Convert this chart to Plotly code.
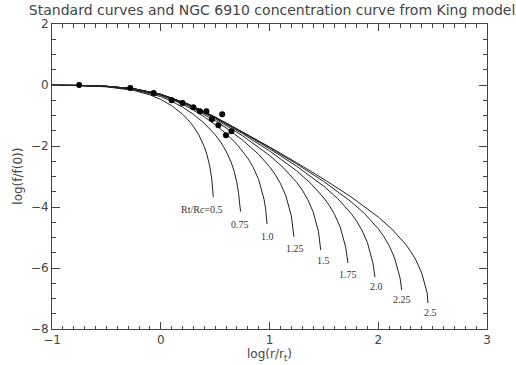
import plotly.graph_objects as go

# ---- data ----
conc_labels = ["Rt/Rc=0.5", "0.75", "1.0", "1.25", "1.5", "1.75", "2.0", "2.25", "2.5"]
label_x = [0.379, 0.733, 0.986, 1.234, 1.495, 1.726, 1.982, 2.218, 2.482]
label_y = [-4.07, -4.56, -4.97, -5.35, -5.77, -6.20, -6.62, -7.02, -7.45]

x_c050 = [-1.2, -1.0, -0.75, -0.5, -0.25, -0.1, 0, 0.1, 0.2, 0.25, 0.3, 0.35, 0.375, 0.4, 0.425, 0.45, 0.47, 0.48, 0.483]
y_c050 = [-0.0025, -0.0062, -0.0194, -0.0599, -0.1764, -0.3231, -0.4721, -0.6767, -0.9570, -1.1370, -1.3563, -1.6349, -1.8088, -2.0186, -2.2853, -2.6544, -3.1123, -3.4711, -3.67]

x_c075 = [-1.2, -1.0, -0.75, -0.5, -0.25, 0, 0.1, 0.2, 0.3, 0.4, 0.5, 0.55, 0.6, 0.65, 0.675, 0.7, 0.715, 0.73, 0.735]
y_c075 = [-0.0022, -0.0054, -0.0165, -0.0506, -0.1470, -0.3811, -0.5325, -0.7239, -0.9607, -1.2538, -1.6293, -1.8667, -2.1611, -2.5584, -2.8309, -3.2058, -3.5290, -4.0290, -4.15]

x_c100 = [-1.2, -1.0, -0.75, -0.5, -0.25, 0, 0.1, 0.2, 0.3, 0.4, 0.5, 0.6, 0.7, 0.8, 0.85, 0.9, 0.95, 0.965, 0.977]
y_c100 = [-0.0019, -0.0048, -0.0150, -0.0461, -0.1336, -0.3416, -0.4728, -0.6337, -0.8244, -1.0450, -1.2982, -1.5916, -1.9429, -2.3966, -2.6971, -3.0991, -3.7507, -4.0755, -4.56]

x_c125 = [-1.2, -1.0, -0.75, -0.5, -0.25, 0, 0.25, 0.5, 0.6, 0.75, 0.9, 1.0, 1.05, 1.1, 1.15, 1.2, 1.225]
y_c125 = [-0.0018, -0.0046, -0.0143, -0.0439, -0.1270, -0.3227, -0.6748, -1.1703, -1.4039, -1.7993, -2.2751, -2.6757, -2.9231, -3.2250, -3.6287, -4.2816, -4.98]

x_c150 = [-1.2, -1.0, -0.75, -0.5, -0.25, 0, 0.25, 0.5, 0.75, 1.0, 1.125, 1.25, 1.3, 1.35, 1.4, 1.45, 1.471]
y_c150 = [-0.0018, -0.0045, -0.0140, -0.0428, -0.1235, -0.3128, -0.6493, -1.1097, -1.6586, -2.3084, -2.7017, -3.1924, -3.4391, -3.7432, -4.1464, -4.7992, -5.41]

x_c175 = [-1.2, -1.0, -0.75, -0.5, -0.25, 0, 0.25, 0.5, 0.75, 1.0, 1.25, 1.375, 1.5, 1.55, 1.6, 1.65, 1.7, 1.722]
y_c175 = [-0.0018, -0.0044, -0.0138, -0.0422, -0.1217, -0.3076, -0.6359, -1.0786, -1.5910, -2.1598, -2.8165, -3.2104, -3.7032, -3.9503, -4.2537, -4.6581, -5.3116, -5.84]

x_c200 = [-1.2, -1.0, -0.75, -0.5, -0.25, 0, 0.25, 0.5, 0.75, 1.0, 1.25, 1.5, 1.625, 1.75, 1.8, 1.85, 1.9, 1.95, 1.97]
y_c200 = [-0.0018, -0.0044, -0.0136, -0.0418, -0.1206, -0.3047, -0.6285, -1.0620, -1.5559, -2.0876, -2.6631, -3.3221, -3.7170, -4.2093, -4.4572, -4.7604, -5.1650, -5.8184, -6.30]

x_c225 = [-1.2, -1.0, -0.75, -0.5, -0.25, 0, 0.25, 0.5, 0.75, 1.0, 1.25, 1.5, 1.75, 1.875, 2.0, 2.05, 2.1, 2.15, 2.2, 2.216]
y_c225 = [-0.0017, -0.0043, -0.0135, -0.0414, -0.1201, -0.3031, -0.6245, -1.0529, -1.5370, -2.0499, -2.5881, -3.1658, -3.8255, -4.2208, -4.7129, -4.9610, -5.2642, -5.6688, -6.3222, -6.72]

x_c250 = [-1.2, -1.0, -0.75, -0.5, -0.25, 0, 0.25, 0.5, 0.75, 1.0, 1.25, 1.5, 1.75, 2.0, 2.125, 2.25, 2.3, 2.35, 2.4, 2.45, 2.457]
y_c250 = [-0.0017, -0.0043, -0.0135, -0.0414, -0.1193, -0.3022, -0.6222, -1.0478, -1.5266, -2.0296, -2.5490, -3.0892, -3.6674, -4.3274, -4.7229, -5.2150, -5.4630, -5.7663, -6.1708, -6.8244, -7.15]

# NGC 6910 observed points
obs_x = [-0.75, -0.28, -0.065, 0.10, 0.20, 0.30, 0.36, 0.42, 0.47, 0.53, 0.565, 0.60, 0.65]
obs_y = [0.0, -0.10, -0.26, -0.50, -0.59, -0.73, -0.86, -0.86, -1.12, -1.32, -0.96, -1.65, -1.52]

x_ticks = [-1, 0, 1, 2, 3]
y_ticks = [-8, -6, -4, -2, 0, 2]

curves = [(x_c050, y_c050), (x_c075, y_c075), (x_c100, y_c100), (x_c125, y_c125),
          (x_c150, y_c150), (x_c175, y_c175), (x_c200, y_c200), (x_c225, y_c225),
          (x_c250, y_c250)]

INK = "#444444"
fig = go.Figure()
for cx, cy in curves:
    fig.add_trace(go.Scatter(x=cx, y=cy, mode="lines",
                             line=dict(color="#222222", width=1),
                             showlegend=False, hoverinfo="skip"))

fig.add_trace(go.Scatter(x=obs_x, y=obs_y, mode="markers",
                         marker=dict(color="black", size=6),
                         showlegend=False))

for t, lx, ly in zip(conc_labels, label_x, label_y):
    fig.add_annotation(x=lx, y=ly, text=t, showarrow=False,
                       font=dict(family="Liberation Serif", size=10, color="#333333"),
                       xanchor="center", yanchor="middle")

axis_common = dict(showline=True, linecolor=INK, linewidth=1, mirror="ticks",
                   ticks="inside", tickcolor=INK, showgrid=False, zeroline=False,
                   tickfont=dict(family="DejaVu Sans", size=12, color=INK))

fig.update_xaxes(range=[-1, 3], tickvals=x_ticks, ticklen=7,
                 minor=dict(dtick=0.1, ticks="inside", ticklen=3.5, tickcolor=INK),
                 **axis_common)
fig.update_yaxes(range=[-8, 2], tickvals=y_ticks, ticklen=8,
                 minor=dict(dtick=0.5, ticks="inside", ticklen=4, tickcolor=INK),
                 **axis_common)

fig.add_annotation(xref="paper", yref="paper", x=0.5, y=-0.052, yanchor="top",
                   text="log(r/r<sub>t</sub>)", showarrow=False,
                   font=dict(family="DejaVu Sans", size=12, color=INK))
fig.add_annotation(xref="paper", yref="paper", x=-0.08, y=0.5, textangle=-90,
                   xanchor="center", yanchor="middle",
                   text="log(f/f(0))", showarrow=False,
                   font=dict(family="DejaVu Sans", size=12, color=INK))

fig.update_layout(
    width=516, height=365,
    margin=dict(l=52, r=29, t=24, b=36),
    paper_bgcolor="white", plot_bgcolor="white",
    title=dict(text="Standard curves and NGC 6910 concentration curve from King model",
               x=0.506, xref="paper", xanchor="center", y=1 - 10 / 365, yanchor="middle",
               font=dict(family="DejaVu Sans", size=14, color=INK)),
)

fig.write_html("out.html")
